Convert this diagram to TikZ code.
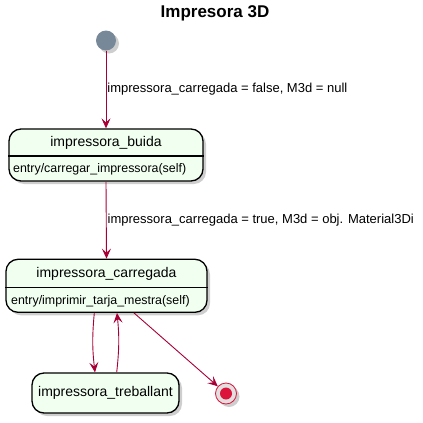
\documentclass[tikz,border=0pt]{standalone}
\usepackage{fontspec}
\setmainfont{Liberation Sans}
\usetikzlibrary{arrows.meta,shadows}
\definecolor{umlred}{HTML}{A80036}
\definecolor{umlfill}{HTML}{F1FFF0}
\definecolor{umlgrey}{HTML}{778899}
\definecolor{umlend}{HTML}{DC143C}

\begin{document}
\begin{tikzpicture}[
  x=1pt, y=-1pt,
  shad/.style={drop shadow={shadow xshift=3pt, shadow yshift=-3pt,
               opacity=0.35, fill=black!55}},
  st/.style={draw=black, line width=1.3pt, fill=umlfill, rounded corners=12pt,
             inner sep=0pt, shad},
  nm/.style={font=\fontsize{14}{16}\selectfont, inner sep=0pt},
  ent/.style={font=\fontsize{12.4}{14}\selectfont, inner sep=0pt, anchor=west},
  lbl/.style={font=\fontsize{13}{15}\selectfont, text=black, inner sep=0pt,
              anchor=west, xshift=1pt},
  arr/.style={-{Stealth[length=10pt, width=9pt, inset=4pt]}, umlred,
              line width=0.9pt},
]
\useasboundingbox (0,0) rectangle (423,423);

% ---------------- title --------------------------------------------
\node[font=\bfseries\fontsize{17}{20}\selectfont] (title) at (215,13)
  {Impresora 3D};

% ---------------- pseudo states ------------------------------------
\node[circle, fill=umlgrey, minimum size=20pt, inner sep=0pt, shad] (ini)
  at (106,40.5) {};
\node[circle, draw=umlend, fill=black!12, line width=0.8pt,
      minimum size=21pt, inner sep=0pt, shad] (fi) at (226,393.5) {};
\node[circle, fill=umlend, minimum size=12pt, inner sep=0pt] (fidot)
  at (fi) {};

% ---------------- states -------------------------------------------
\node[st, minimum width=194pt, minimum height=52pt] (buida) at (106,155) {};
\node[nm] (buidanm) at (106,143) {impressora\_buida};
\draw[line width=1.2pt] ([yshift=-1pt]buida.west) -- ([yshift=-1pt]buida.east);
\node[ent] (buidaent) at (13,169.5) {entry/carregar\_impressora(self)};

\node[st, minimum width=201pt, minimum height=53pt] (carr) at (106.5,285.8) {};
\node[nm] (carrnm) at (106.5,274) {impressora\_carregada};
\draw[line width=1.2pt] ([yshift=-1.9pt]carr.west) -- ([yshift=-1.9pt]carr.east);
\node[ent] (carrent) at (11,301) {entry/imprimir\_tarja\_mestra(self)};

\node[st, nm, minimum width=147pt, minimum height=40pt] (treb) at (105.5,393)
  {impressora\_treballant};

% ---------------- transitions --------------------------------------
\draw[arr] (ini.south) -- node[lbl] {impressora\_carregada = false, M3d = null}
  (buida.north);
\draw[arr] (buida.south) -- node[lbl]
  {impressora\_carregada = true, M3d = obj. Material3Di} (carr.north);
\draw[arr] ([xshift=-12.2pt]carr.south) to[bend right=6]
  ([xshift=-10.5pt]treb.north);
\draw[arr] ([xshift=11.2pt]treb.north) to[bend right=6]
  ([xshift=10.5pt]carr.south);
\draw[arr] ([xshift=27.5pt]carr.south) -- (fi);

\end{tikzpicture}
\end{document}
